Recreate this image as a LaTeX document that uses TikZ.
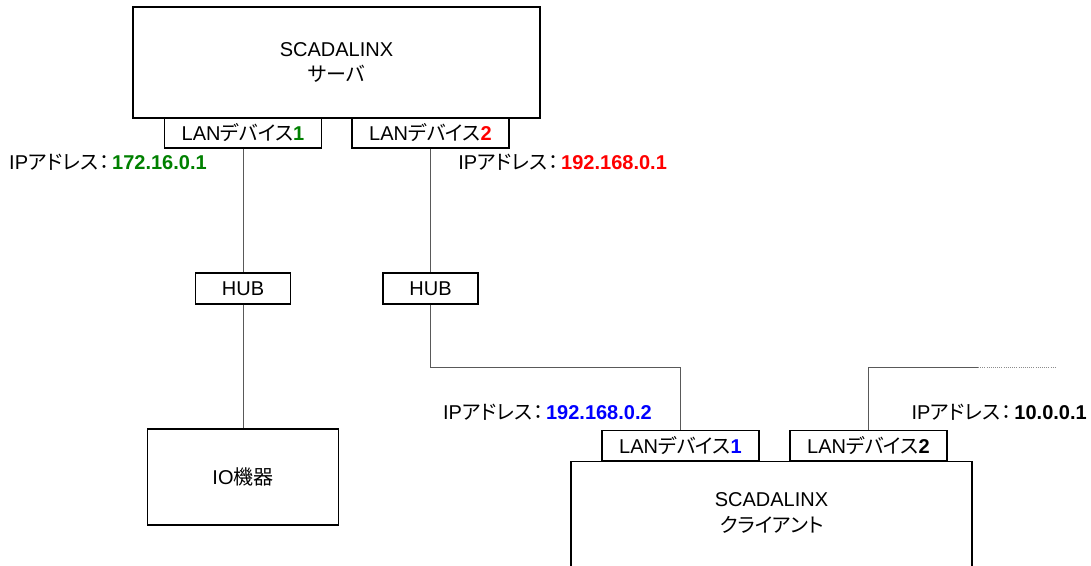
\documentclass[tikz,border=0pt]{standalone}
\usepackage{fontspec}
\setmainfont{Liberation Sans}
\newfontfamily\jpfont[RawFeature=+palt]{Noto Sans CJK JP}
\usetikzlibrary{positioning}
\definecolor{ipgreen}{RGB}{0,128,0}
\definecolor{ipred}{RGB}{255,0,0}
\definecolor{ipblue}{RGB}{0,0,255}
\tikzstyle{sysbox}=[rectangle,draw=black,fill=white,line width=1pt,inner sep=0pt,align=center]
\tikzstyle{devbox}=[rectangle,draw=black,fill=white,line width=1pt,inner sep=0pt,minimum width=157*0.75pt,minimum height=30*0.75pt]
\tikzstyle{hubbox}=[rectangle,draw=black,fill=white,line width=1pt,inner sep=0pt,minimum width=95*0.75pt,minimum height=31*0.75pt]
\tikzstyle{wire}=[draw=black!65,line width=0.6pt]
\tikzstyle{iplabel}=[inner sep=0pt]
\newcommand{\landev}[2]{LAN{\jpfont デバイス}\textbf{\color{#1}#2}}
\newcommand{\ipaddr}[2]{IP{\jpfont アドレス\hspace{1pt}：\hspace{2pt}}\textbf{\color{#1}#2}}

\begin{document}
\begin{tikzpicture}[x=0.75pt,y=-0.75pt,font=\fontsize{15}{19}\selectfont]
        \useasboundingbox (0,0) rectangle (1091,566);
        \clip (0,0) rectangle (1091,566);
        % server side
        \node[sysbox,minimum width=407*0.75pt,minimum height=111*0.75pt] (server) at (336.5,62.5) {SCADALINX\\{\jpfont サーバ}};
        \node[devbox] (srvlan1) at (243,133) {\landev{ipgreen}{1}};
        \node[devbox] (srvlan2) at (430.5,133) {\landev{ipred}{2}};
        \node[iplabel,anchor=east] (srvip1) at (207,162) {\ipaddr{ipgreen}{172.16.0.1}};
        \node[iplabel,anchor=west] (srvip2) at (458,162) {\ipaddr{ipred}{192.168.0.1}};
        \node[hubbox] (hub1) at (243,288.5) {HUB};
        \node[hubbox] (hub2) at (430.5,288.5) {HUB};
        \node[sysbox,minimum width=191*0.75pt,minimum height=96*0.75pt] (io) at (243,477) {IO{\jpfont 機器}};
        % client side
        \node[sysbox,anchor=north,minimum width=401*0.75pt,minimum height=160*0.75pt] (client) at (771.5,461) {};
        \node[align=center] (clienttext) at (771.5,513) {SCADALINX\\{\jpfont クライアント}};
        \node[devbox] (clilan1) at (680.5,445.5) {\landev{ipblue}{1}};
        \node[devbox] (clilan2) at (868.5,445.5) {\landev{black}{2}};
        \node[iplabel,anchor=east] (cliip1) at (652,412) {\ipaddr{ipblue}{192.168.0.2}};
        \node[iplabel,anchor=east] (cliip2) at (1087,412) {\ipaddr{black}{10.0.0.1}};
        \coordinate (wan) at (978,367);
        \coordinate (wanend) at (1056,367);
        % wiring
        \draw[wire] (srvlan1) -- (hub1);
        \draw[wire] (hub1) -- (io);
        \draw[wire] (srvlan2) -- (hub2);
        \draw[wire] (hub2.south) -- (hub2.south |- wan) -| (clilan1.north);
        \draw[wire] (clilan2.north) |- (wan);
        \draw[wire,draw=black!45,densely dotted] (wan) -- (wanend);
      \end{tikzpicture}
\end{document}
